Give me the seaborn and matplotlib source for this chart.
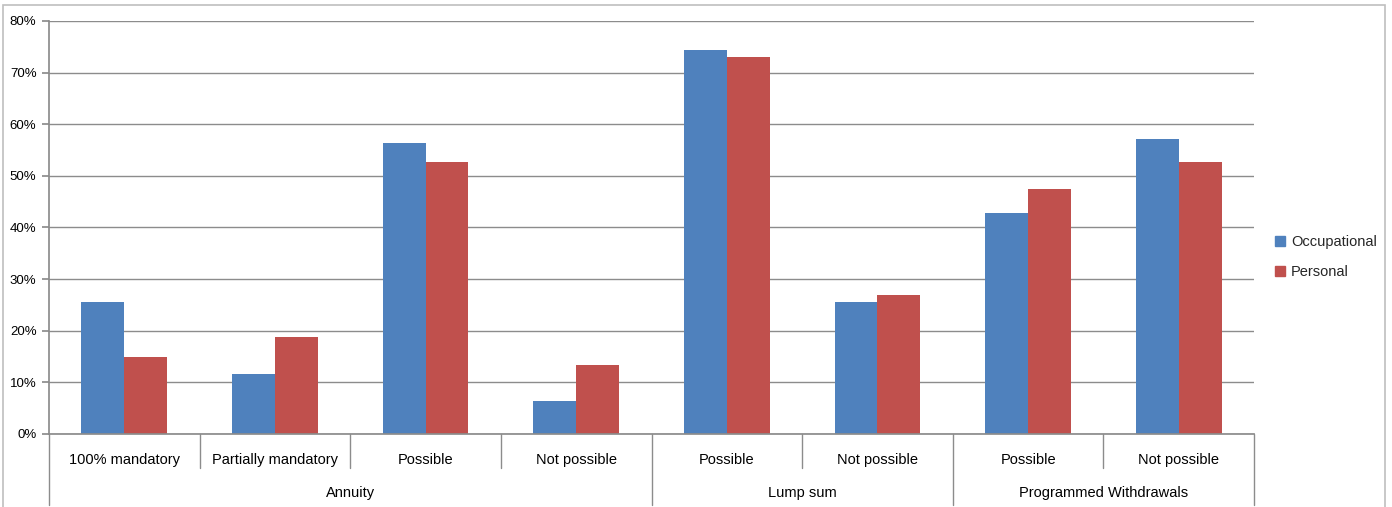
import numpy as np
import pandas as pd
import matplotlib
matplotlib.use("Agg")
import matplotlib.pyplot as plt
import seaborn as sns
from matplotlib.patches import Rectangle
from matplotlib.ticker import PercentFormatter

groups = ["Annuity", "Annuity", "Annuity", "Annuity",
          "Lump sum", "Lump sum",
          "Programmed Withdrawals", "Programmed Withdrawals"]
subcats = ["100% mandatory", "Partially mandatory", "Possible", "Not possible",
           "Possible", "Not possible",
           "Possible", "Not possible"]
occupational = [25.6, 11.6, 56.3, 6.3, 74.3, 25.6, 42.9, 57.1]
personal = [14.9, 18.8, 52.7, 13.4, 73.0, 26.9, 47.4, 52.7]
series_names = ["Occupational", "Personal"]
colors = ["#4F81BD", "#C0504D"]

keys = [f"{g}|{s}" for g, s in zip(groups, subcats)]
df = pd.DataFrame({
    "key": keys * 2,
    "value": occupational + personal,
    "series": [series_names[0]] * len(keys) + [series_names[1]] * len(keys),
})

sns.set_theme(style="white")
plt.rcParams["font.family"] = ["Liberation Sans", "DejaVu Sans"]

fig = plt.figure(figsize=(13.92, 5.07), dpi=100)
ax = fig.add_axes([49/1392, 1-434/507, (1254-49)/1392, (434-21)/507])

sns.barplot(data=df, x="key", y="value", hue="series", order=keys,
            hue_order=series_names, palette=colors, width=0.57, gap=0,
            saturation=1, ax=ax, legend=True, edgecolor="none", linewidth=0)

ax.set_xlim(-0.5, len(keys) - 0.5)
ax.set_ylim(0, 80)
ax.set_yticks(np.arange(0, 81, 10))
ax.yaxis.set_major_formatter(PercentFormatter(decimals=0))
grid_c = "#8c8c8c"
ax.yaxis.grid(True, color=grid_c, linewidth=1)
ax.set_axisbelow(True)
for s in ["top", "right"]:
    ax.spines[s].set_visible(False)
ax.spines["left"].set_color(grid_c)
ax.spines["bottom"].set_color(grid_c)
ax.tick_params(axis="y", left=True, length=5, color=grid_c, labelsize=9.5,
               pad=4, labelcolor="#000000")
ax.set_xlabel("")
ax.set_ylabel("")

ax.set_xticks(range(len(keys)))
ax.set_xticklabels(subcats, fontsize=10.5, color="#000000")
ax.tick_params(axis="x", bottom=False, length=0, pad=14)

trans = ax.get_xaxis_transform()
short = -(468-434)/413
long_ = -(505-434)/413
bounds = [-0.5]
for i in range(1, len(keys)):
    bounds.append(i - 0.5)
bounds.append(len(keys) - 0.5)
for i, b in enumerate(bounds):
    is_group = (i == 0 or i == len(keys) or groups[i] != groups[i-1])
    ax.plot([b, b], [0, long_ if is_group else short], transform=trans,
            color=grid_c, linewidth=1, clip_on=False)

# group labels
uniq = []
for i, g in enumerate(groups):
    if not uniq or uniq[-1][0] != g:
        uniq.append([g, i, i])
    else:
        uniq[-1][2] = i
for g, a, b in uniq:
    ax.text((a + b) / 2, -(493-434)/413, g, transform=trans, ha="center",
            va="center", fontsize=10.5, color="#000000")

leg = ax.get_legend()
if leg is not None:
    leg.remove()
handles = [Rectangle((0, 0), 1, 1, color=c) for c in colors]
fig.legend(handles, series_names, loc="center left",
           bbox_to_anchor=(1262/1392, 1-257/507), frameon=False,
           fontsize=10.5, handlelength=0.7, handleheight=0.7,
           handletextpad=0.4, labelspacing=1.1)

fig.patches.append(Rectangle((3/1392, -0.05), (1385-3)/1392, 1.05-5/507,
                             transform=fig.transFigure, fill=False,
                             edgecolor="#bfbfbf", linewidth=1.2))

fig.savefig("out.png", dpi=100)
